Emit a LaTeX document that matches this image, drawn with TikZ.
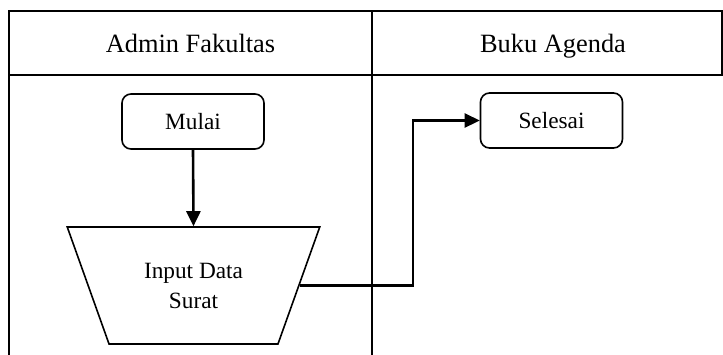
\documentclass[tikz,border=0pt]{standalone}
\usepackage{fontspec}
\setmainfont{Liberation Serif}
\usetikzlibrary{shapes.geometric,arrows.meta}

\tikzset{
  lane/.style={line width=1.8pt, line cap=rect},
  headtext/.style={anchor=base, font=\fontsize{26.4}{30}\selectfont},
  terminal/.style={draw, line width=1.6pt, rounded corners=9pt,
    minimum width=142pt, minimum height=55pt, inner sep=0pt,
    font=\fontsize{23.3}{30}\selectfont},
  manualinput/.style={draw, line width=1.6pt, trapezium, shape border rotate=180,
    trapezium stretches=true, trapezium angle=61.7,
    minimum width=253pt, minimum height=117pt, inner sep=0pt,
    align=center, font=\fontsize{23.3}{30}\selectfont},
  flow/.style={line width=2.6pt, -{Triangle[length=15pt,width=14pt]}},
}

\begin{document}
\begin{tikzpicture}[x=1pt,y=-1pt]
  \useasboundingbox (0,0) rectangle (723,354);

  % swimlane frame
  \draw[lane] (9,354) -- (9,11) -- (722,11) -- (722,75);
  \draw[lane] (9,75) -- (722,75);
  \draw[lane] (372,11) -- (372,354);

  % lane headers, on a common baseline
  \node[headtext] (hAdmin) at (190.5,52) {Admin Fakultas};
  \node[headtext] (hBuku)  at (553,52)   {Buku Agenda};

  % flow steps
  \node[terminal] (mulai) at (193,121.5) {Mulai};
  \node[manualinput] (input) at (193.5,285.5) {Input Data\\Surat};
  \node[terminal] (selesai) at (551.5,120.5) {Selesai};

  % connectors
  \coordinate (knee) at (413,120.5);
  \draw[flow] (mulai.south) -- (input.north);
  \draw[flow] (input.east) -| (knee) -- (selesai.west);
\end{tikzpicture}
\end{document}
